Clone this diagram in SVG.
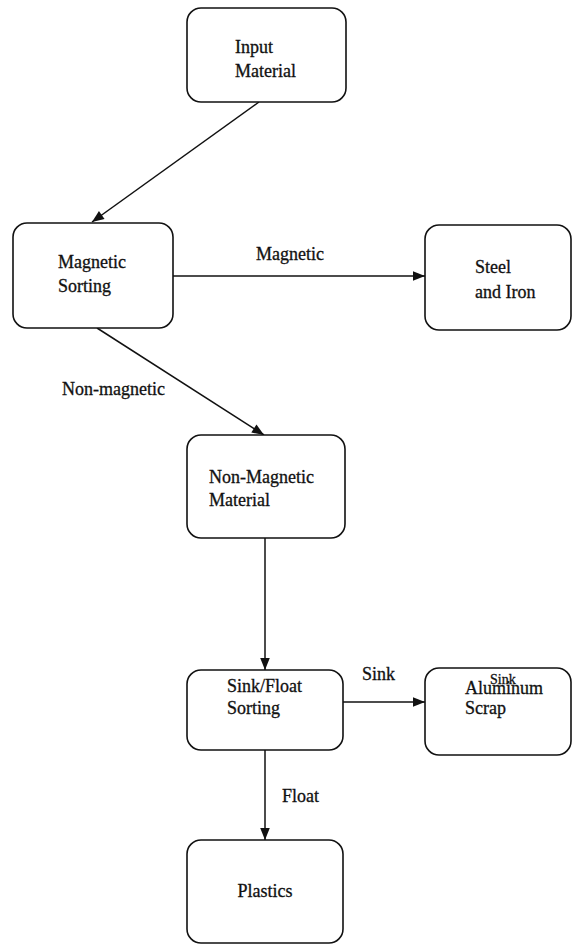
<svg xmlns="http://www.w3.org/2000/svg" width="576" height="945" viewBox="0 0 576 945">
<style>
.box{fill:#fff;stroke:#111;stroke-width:1.6}
.t{font-family:"Liberation Serif","Times New Roman",serif;font-size:18px;fill:#111;stroke:#111;stroke-width:0.3}
.s{font-size:14px}
.e{stroke:#111;stroke-width:1.5;fill:none}
</style>
<defs>
<marker id="ah" viewBox="0 0 10 10" refX="10" refY="5" markerWidth="20" markerHeight="12" markerUnits="userSpaceOnUse" orient="auto">
<path d="M0,1 L10,5 L0,9 z" fill="#111"/>
</marker>
</defs>
<rect width="576" height="945" fill="#fff"/>
<g id="connectors">
<line class="e" x1="259" y1="102" x2="92" y2="222" marker-end="url(#ah)"/>
<line class="e" x1="173" y1="276" x2="425" y2="276" marker-end="url(#ah)"/>
<line class="e" x1="97" y1="328" x2="264" y2="435" marker-end="url(#ah)"/>
<line class="e" x1="265" y1="538" x2="265" y2="670" marker-end="url(#ah)"/>
<line class="e" x1="343" y1="702" x2="425" y2="702" marker-end="url(#ah)"/>
<line class="e" x1="265" y1="750" x2="265" y2="840" marker-end="url(#ah)"/>
<text class="t" x="290" y="260" text-anchor="middle">Magnetic</text>
<text class="t" x="62" y="395">Non-magnetic</text>
<text class="t" x="362" y="680">Sink</text>
<text class="t" x="282" y="802">Float</text>
</g>
<g id="input">
<rect class="box" x="187" y="8" width="159" height="94" rx="14"/>
<text class="t" x="235" y="53">Input</text>
<text class="t" x="235" y="77">Material</text>
</g>
<g id="magsort">
<rect class="box" x="13" y="223" width="160" height="105" rx="14"/>
<text class="t" x="58" y="268">Magnetic</text>
<text class="t" x="58" y="292">Sorting</text>
</g>
<g id="steel">
<rect class="box" x="425" y="225" width="146" height="105" rx="14"/>
<text class="t" x="475" y="273">Steel</text>
<text class="t" x="475" y="298">and Iron</text>
</g>
<g id="nonmag">
<rect class="box" x="187" y="435" width="158" height="103" rx="14"/>
<text class="t" x="209" y="483">Non-Magnetic</text>
<text class="t" x="209" y="506">Material</text>
</g>
<g id="sinkfloat">
<rect class="box" x="187" y="670" width="156" height="80" rx="14"/>
<text class="t" x="227" y="692">Sink/Float</text>
<text class="t" x="227" y="714">Sorting</text>
</g>
<g id="aluminum">
<rect class="box" x="425" y="668" width="146" height="87" rx="14"/>
<text class="t s" x="490" y="684">Sink</text>
<text class="t" x="465" y="694">Aluminum</text>
<text class="t" x="465" y="714">Scrap</text>
</g>
<g id="plastics">
<rect class="box" x="187" y="840" width="156" height="103" rx="14"/>
<text class="t" x="265" y="897" text-anchor="middle">Plastics</text>
</g>
</svg>
